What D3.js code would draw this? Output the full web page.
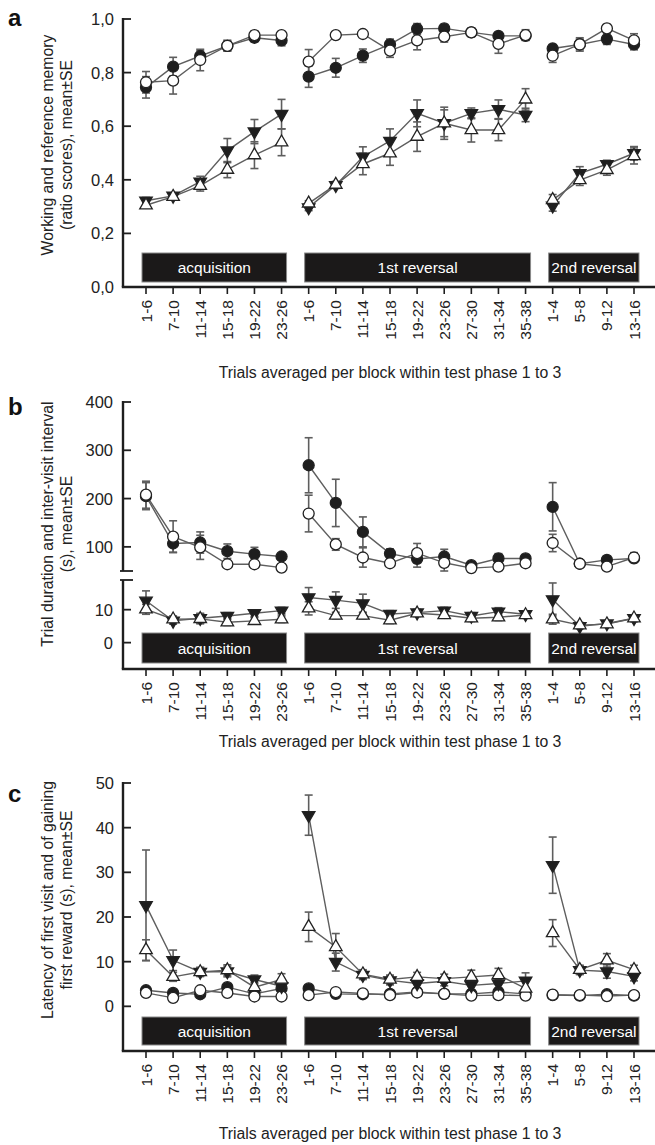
<!DOCTYPE html>
<html><head><meta charset="utf-8">
<script src="https://cdn.jsdelivr.net/npm/d3@7"></script>
<style>body{margin:0;background:#fff}svg{display:block}text{font-family:"Liberation Sans",Arial,sans-serif}</style>
</head><body><svg id="chart" width="655" height="1145"></svg>
<script>
// ---------- DATA ----------
const phases = ["acquisition", "1st reversal", "2nd reversal"];
const acqBlocks = ["1-6","7-10","11-14","15-18","19-22","23-26"];
const rev1Blocks = ["1-6","7-10","11-14","15-18","19-22","23-26","27-30","31-34","35-38"];
const rev2Blocks = ["1-4","5-8","9-12","13-16"];
const xTitle = "Trials averaged per block within test phase 1 to 3";

// Panel a: working / reference memory ratio scores
const aTicks = [0, 0.2, 0.4, 0.6, 0.8, 1.0];
const aCircleFilled   = [0.745,0.822,0.862,0.900,0.930,0.920, 0.785,0.818,0.863,0.905,0.963,0.965,0.950,0.937,0.937, 0.890,0.905,0.925,0.905];
const aCircleFilledSE = [0.040,0.035,0.020,0.020,0.015,0.020, 0.040,0.035,0.025,0.020,0.020,0.015,0.015,0.010,0.015, 0.015,0.020,0.020,0.020];
const aCircleOpen     = [0.764,0.770,0.847,0.900,0.940,0.940, 0.841,0.940,0.944,0.882,0.920,0.934,0.950,0.907,0.940, 0.863,0.905,0.965,0.920];
const aCircleOpenSE   = [0.040,0.050,0.040,0.020,0.015,0.012, 0.045,0.010,0.012,0.025,0.035,0.020,0.015,0.035,0.020, 0.025,0.025,0.015,0.025];
const aTriFilled      = [0.322,0.340,0.393,0.509,0.580,0.645, 0.297,0.380,0.486,0.545,0.648,0.611,0.648,0.663,0.642, 0.303,0.424,0.458,0.499];
const aTriFilledSE    = [0.012,0.010,0.020,0.045,0.045,0.055, 0.012,0.012,0.037,0.045,0.050,0.050,0.020,0.035,0.025, 0.020,0.025,0.015,0.025];
const aTriOpen        = [0.305,0.337,0.378,0.438,0.492,0.540, 0.312,0.382,0.459,0.499,0.561,0.611,0.586,0.586,0.700, 0.325,0.399,0.437,0.489];
const aTriOpenSE      = [0.010,0.010,0.020,0.030,0.050,0.050, 0.010,0.012,0.040,0.045,0.055,0.060,0.045,0.040,0.040, 0.020,0.020,0.020,0.030];

// Panel b: trial duration / inter-visit interval (s), broken axis
const bTicksUpper = [100, 200, 300, 400];
const bTicksLower = [0, 10];
const bCircleFilled   = [205,107,109,91,85,80, 269,191,131,86,75,80,62,76,76, 183,65,73,76];
const bCircleFilledSE = [28,18,22,15,14,6, 57,49,31,10,17,15,7,10,8, 50,6,8,8];
const bCircleOpen     = [208,121,99,64,64,57, 169,105,78,66,87,67,56,59,66, 108,65,59,78];
const bCircleOpenSE   = [28,33,25,5,8,5, 38,12,20,6,20,17,6,8,8, 18,6,6,10];
const bTriFilled      = [12.7,6.6,7.4,8.1,8.9,9.7, 13.7,12.9,11.9,8.7,9.1,9.7,8.1,9.4,8.6, 13.1,5.0,5.8,7.4];
const bTriFilledSE    = [3,1,1.5,1,1,1, 3,2.5,2.8,1,1,1,1,1.2,1, 5,0.8,0.8,1];
const bTriOpen        = [10.1,7.1,7.2,6.2,6.6,7.1, 10.4,8.2,8.2,6.8,8.9,8.4,7.4,7.7,8.4, 7.1,5.3,5.6,7.4];
const bTriOpenSE      = [1.5,1,1.5,1,1,1, 2,1,1,1,1,1,1,1,1, 1.5,0.8,0.8,1];

// Panel c: latency of first visit / gaining first reward (s)
const cTicks = [0, 10, 20, 30, 40, 50];
const cCircleFilled   = [3.6,3.0,2.7,4.3,2.8,4.0, 4.0,2.8,2.7,2.8,3.2,2.8,2.8,3.2,2.8, 2.5,2.4,2.7,2.4];
const cCircleFilledSE = [0.5,0.5,0.5,0.6,0.5,0.6, 0.5,0.4,0.4,0.4,0.5,0.4,0.4,0.5,0.4, 0.3,0.3,0.4,0.3];
const cCircleOpen     = [3.0,1.9,3.6,3.0,2.2,2.2, 2.5,3.2,2.9,2.5,3.1,2.8,2.4,2.5,2.4, 2.6,2.5,2.3,2.5];
const cCircleOpenSE   = [0.5,0.4,0.6,0.5,0.4,0.4, 0.4,0.5,0.4,0.4,0.5,0.4,0.4,0.4,0.4, 0.3,0.3,0.3,0.3];
const cTriFilled      = [22.6,10.3,7.7,7.8,6.0,4.5, 42.8,9.9,7.0,5.8,5.1,5.6,4.7,5.1,5.7, 31.6,8.1,7.8,6.7];
const cTriFilledSE    = [12.4,2.3,1,1.2,1,1, 4.5,2,1,1,1,1,1,1,1.8, 6.3,1,1.5,1];
const cTriOpen        = [12.6,6.6,7.7,8.1,4.3,6.0, 17.8,13.3,7.2,6.0,6.6,6.2,6.6,7.0,4.0, 16.4,8.2,10.3,8.2];
const cTriOpenSE      = [2.3,1,1,1.2,1,1.3, 3.3,3,1,1,1,1,1.5,1.5,2, 3,1,1.5,1];

// ---------- LAYOUT ----------
const W = 655, H = 1145;
const AX_X = 123, X_RIGHT = 655;
const FONT = 15.5;
const DARK = "#1e1e1e", GREY = "#5e5e5e";

const blockLabels = [...acqBlocks, ...rev1Blocks, ...rev2Blocks];
const phaseOf = [...acqBlocks.map(() => 0), ...rev1Blocks.map(() => 1), ...rev2Blocks.map(() => 2)];
const idx = d3.range(blockLabels.length);
const x = d3.scalePoint().domain(idx).range([146, 634]);

const svg = d3.select("#chart");
svg.append("rect").attr("width", W).attr("height", H).attr("fill", "#fff");

function makeSeries(v, se, shape, fill) { return {v, se, shape, fill}; }

const panels = [
  {
    letter: "a", letterY: 26, top: 19, bottom: 287, titleY: 378,
    yLabel: ["Working and reference memory", "(ratio scores), mean±SE"], yLabelC: 145,
    y: d3.scaleLinear().domain([0, 1]).range([287, 19]),
    tickFmt: d => d3.format(".1f")(d).replace(".", ","),
    ticks: aTicks,
    series: [
      makeSeries(aCircleFilled, aCircleFilledSE, "circle", DARK),
      makeSeries(aCircleOpen, aCircleOpenSE, "circle", "#fff"),
      makeSeries(aTriFilled, aTriFilledSE, "down", DARK),
      makeSeries(aTriOpen, aTriOpenSE, "up", "#fff")
    ],
    barTop: 253, barBot: 282
  },
  {
    letter: "b", letterY: 415, top: 402, bottom: 669, titleY: 747, broken: true,
    yLabel: ["Trial duration and inter-visit interval", "(s), mean±SE"], yLabelC: 524,
    upper: d3.scaleLinear().domain([50, 400]).range([571, 402]),
    lower: d3.scaleLinear().domain([-8, 19]).range([669, 580]),
    series: [
      makeSeries(bCircleFilled, bCircleFilledSE, "circle", DARK),
      makeSeries(bCircleOpen, bCircleOpenSE, "circle", "#fff"),
      makeSeries(bTriFilled, bTriFilledSE, "down", DARK),
      makeSeries(bTriOpen, bTriOpenSE, "up", "#fff")
    ],
    barTop: 633, barBot: 663
  },
  {
    letter: "c", letterY: 802, top: 783, bottom: 1051, titleY: 1139,
    yLabel: ["Latency of first visit and of gaining", "first reward (s), mean±SE"], yLabelC: 900,
    y: d3.scaleLinear().domain([-10, 50]).range([1051, 783]),
    tickFmt: d => String(d),
    ticks: cTicks,
    series: [
      makeSeries(cCircleFilled, cCircleFilledSE, "circle", DARK),
      makeSeries(cCircleOpen, cCircleOpenSE, "circle", "#fff"),
      makeSeries(cTriFilled, cTriFilledSE, "down", DARK),
      makeSeries(cTriOpen, cTriOpenSE, "up", "#fff")
    ],
    barTop: 1017, barBot: 1045
  }
];

panels.forEach(p => {
  if (p.broken) p.y = v => (v >= 50 ? p.upper(v) : p.lower(v));
  const g = svg.append("g");

  // panel letter
  g.append("text").attr("x", 8).attr("y", p.letterY).attr("font-size", 24).attr("font-weight", "bold")
    .attr("fill", "#111").text(p.letter);

  // y label
  p.yLabel.forEach((t, i) => {
    g.append("text").attr("transform", `translate(${i === 0 ? 53 : 72},${p.yLabelC}) rotate(-90)`)
      .attr("text-anchor", "middle").attr("font-size", FONT + 0.3).attr("fill", "#222").text(t);
  });

  // phase bars
  [0, 1, 2].forEach(ph => {
    const ii = idx.filter(i => phaseOf[i] === ph);
    const x0 = x(ii[0]) - 4, x1 = x(ii[ii.length - 1]) + 5;
    g.append("rect").attr("x", x0).attr("y", p.barTop).attr("width", x1 - x0).attr("height", p.barBot - p.barTop)
      .attr("fill", "#1b1919").attr("stroke", "#8a8a8a").attr("stroke-width", 1);
    g.append("text").attr("x", (x0 + x1) / 2).attr("y", (p.barTop + p.barBot) / 2 + 5.5)
      .attr("text-anchor", "middle").attr("font-size", FONT).attr("fill", "#fff").text(phases[ph]);
  });

  // y axis
  const axG = g.append("g").attr("stroke", DARK).attr("stroke-width", 2.4).attr("fill", "none");
  if (p.broken) {
    axG.append("line").attr("x1", AX_X).attr("x2", AX_X).attr("y1", p.upper(400) - 1).attr("y2", p.upper(50));
    axG.append("line").attr("x1", AX_X).attr("x2", AX_X).attr("y1", p.lower(19)).attr("y2", p.bottom);
    [p.upper(50), p.lower(19)].forEach(yy => {
      axG.append("line").attr("x1", AX_X - 3).attr("x2", AX_X + 10).attr("y1", yy).attr("y2", yy).attr("stroke-width", 1.8);
    });
    const tk = [...bTicksUpper.map(t => [t, p.upper(t)]), ...bTicksLower.map(t => [t, p.lower(t)])];
    tk.forEach(([t, yy]) => {
      axG.append("line").attr("x1", AX_X).attr("x2", AX_X + 8).attr("y1", yy).attr("y2", yy).attr("stroke-width", 1.8);
      g.append("text").attr("x", AX_X - 10).attr("y", yy + 6).attr("text-anchor", "end")
        .attr("font-size", 16.5).attr("fill", "#222").text(t);
    });
  } else {
    axG.append("line").attr("x1", AX_X).attr("x2", AX_X).attr("y1", p.top - 1).attr("y2", p.bottom);
    p.ticks.forEach(t => {
      const yy = p.y(t);
      axG.append("line").attr("x1", AX_X).attr("x2", AX_X + 8).attr("y1", yy).attr("y2", yy).attr("stroke-width", 1.8);
      g.append("text").attr("x", AX_X - 9).attr("y", yy + 6).attr("text-anchor", "end")
        .attr("font-size", 16.5).attr("fill", "#222").text(p.tickFmt(t));
    });
  }

  // x axis
  axG.append("line").attr("x1", AX_X - 1.2).attr("x2", X_RIGHT).attr("y1", p.bottom).attr("y2", p.bottom);
  idx.forEach(i => {
    axG.append("line").attr("x1", x(i)).attr("x2", x(i)).attr("y1", p.bottom).attr("y2", p.bottom + 7).attr("stroke-width", 1.6);
    g.append("text").attr("transform", `translate(${x(i)},${p.bottom + 13}) rotate(-90)`)
      .attr("text-anchor", "end").attr("dy", "0.36em").attr("font-size", FONT).attr("fill", "#222")
      .text(blockLabels[i]);
  });

  // x title
  g.append("text").attr("x", 390).attr("y", p.titleY).attr("text-anchor", "middle")
    .attr("font-size", FONT + 0.3).attr("fill", "#222").text(xTitle);

  // data: lines
  const line = d3.line().x(i => x(i));
  p.series.forEach(s => {
    line.y(i => p.y(s.v[i]));
    [0, 1, 2].forEach(ph => {
      g.append("path").attr("d", line(idx.filter(i => phaseOf[i] === ph)))
        .attr("fill", "none").attr("stroke", GREY).attr("stroke-width", 1.4);
    });
  });
  // error bars
  p.series.forEach(s => {
    idx.forEach(i => {
      const y1 = p.y(s.v[i] - s.se[i]), y2 = p.y(s.v[i] + s.se[i]);
      const eg = g.append("g").attr("stroke", GREY).attr("stroke-width", 1.6);
      eg.append("line").attr("x1", x(i)).attr("x2", x(i)).attr("y1", y1).attr("y2", y2);
      eg.append("line").attr("x1", x(i) - 4).attr("x2", x(i) + 4).attr("y1", y1).attr("y2", y1);
      eg.append("line").attr("x1", x(i) - 4).attr("x2", x(i) + 4).attr("y1", y2).attr("y2", y2);
    });
  });
  // markers
  const tri = d3.symbol().type(d3.symbolTriangle).size(68);
  p.series.forEach(s => {
    idx.forEach(i => {
      const cx = x(i), cy = p.y(s.v[i]);
      if (s.shape === "circle") {
        g.append("circle").attr("cx", cx).attr("cy", cy).attr("r", 5.5)
          .attr("fill", s.fill).attr("stroke", "#222").attr("stroke-width", 1.3);
      } else {
        g.append("path").attr("d", tri())
          .attr("transform", `translate(${cx},${cy}) rotate(${s.shape === "down" ? 180 : 0})`)
          .attr("fill", s.fill).attr("stroke", "#222").attr("stroke-width", 1.3);
      }
    });
  });
});
</script></body></html>
